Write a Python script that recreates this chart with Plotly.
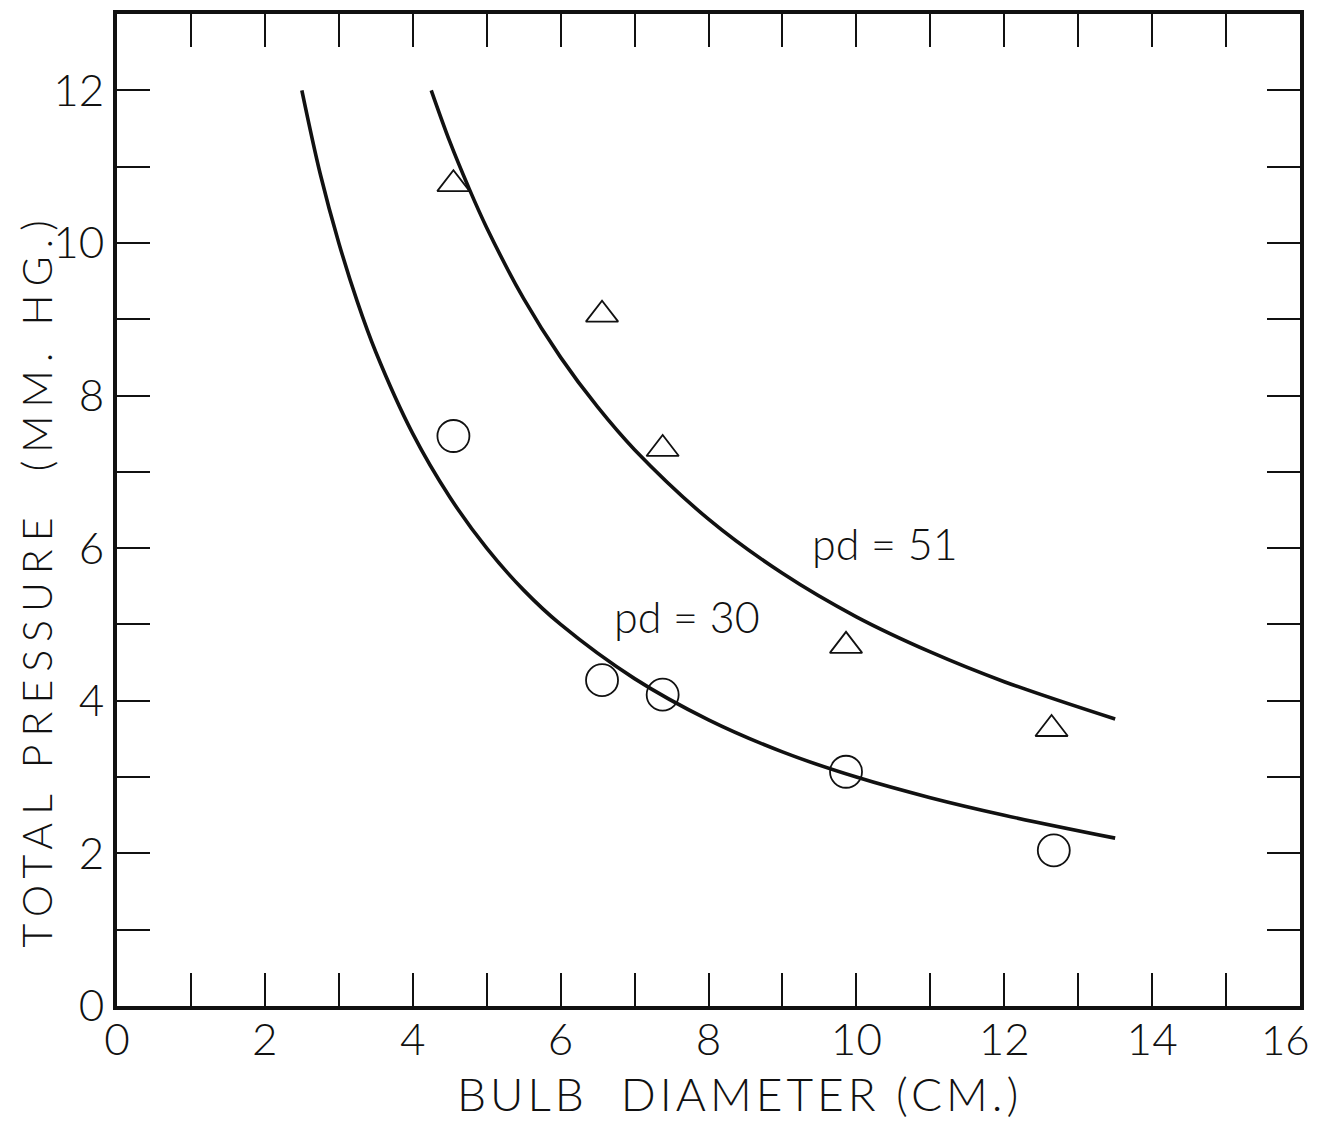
import plotly.graph_objects as go

# Data
tri_d = [4.55, 6.56, 7.38, 9.86, 12.64]
tri_p = [10.77, 9.06, 7.30, 4.72, 3.63]

circ_d = [4.55, 6.56, 7.38, 9.86, 12.67]
circ_p = [7.47, 4.27, 4.08, 3.07, 2.04]

curve30_d = [2.5, 2.75, 3.0, 3.25, 3.5, 4.0, 4.5, 5.0, 5.5, 6.0, 7.0, 8.0, 9.0, 10.0, 11.0, 12.0, 13.5]
curve30_p = [12.0, 10.9, 10.0, 9.23, 8.57, 7.5, 6.67, 6.0, 5.45, 5.0, 4.29, 3.75, 3.33, 3.0, 2.73, 2.5, 2.2]

curve51_d = [4.25, 4.5, 4.75, 5.0, 5.5, 6.0, 6.5, 7.0, 8.0, 9.0, 10.0, 11.0, 12.0, 13.5]
curve51_p = [12.0, 11.33, 10.74, 10.2, 9.27, 8.5, 7.85, 7.29, 6.38, 5.67, 5.1, 4.64, 4.25, 3.76]

x_tickvals = list(range(0, 17))
x_ticktext = [str(v) if (v % 2 == 0 and v < 16) else "" for v in x_tickvals]
x_last_label = "16"
y_tickvals = list(range(0, 13))
y_ticktext = [str(v) if v % 2 == 0 else "" for v in y_tickvals]

curve_labels = ["pd = 51", "pd = 30"]
label_x = [10.39, 7.71]
label_y = [6.06, 5.11]

x_title = "BULB  DIAMETER (CM.)"
y_title = "TOTAL PRESSURE  (MM. HG.)"

FONT = "Lato"
BLACK = "#111111"

fig = go.Figure()
fig.add_trace(go.Scatter(x=curve30_d, y=curve30_p, mode="lines",
                         line=dict(color=BLACK, width=3.6, shape="spline"),
                         showlegend=False, hoverinfo="skip"))
fig.add_trace(go.Scatter(x=curve51_d, y=curve51_p, mode="lines",
                         line=dict(color=BLACK, width=3.6, shape="spline"),
                         showlegend=False, hoverinfo="skip"))
fig.add_trace(go.Scatter(x=tri_d, y=tri_p, mode="markers",
                         marker=dict(symbol="triangle-up-open", size=28, color=BLACK,
                                     line=dict(width=1.8, color=BLACK)),
                         showlegend=False))
fig.add_trace(go.Scatter(x=circ_d, y=circ_p, mode="markers",
                         marker=dict(symbol="circle-open", size=32, color=BLACK,
                                     line=dict(width=1.8, color=BLACK)),
                         showlegend=False))

for t, x, y in zip(curve_labels, label_x, label_y):
    fig.add_annotation(x=x, y=y, text=t, showarrow=False,
                       font=dict(family=FONT, size=43, color=BLACK, weight=300))

# last x tick label, kept inside the page edge
fig.add_annotation(x=16, xref="x", yref="paper", y=-0.0335, text=x_last_label,
                   showarrow=False, xanchor="right", yanchor="middle", xshift=12,
                   font=dict(family=FONT, size=42, color=BLACK, weight=300))

fig.add_annotation(xref="paper", yref="paper", x=0.526, y=-0.0887,
                   text='<span style="letter-spacing:4px">' + x_title + '</span>',
                   showarrow=False, xanchor="center", yanchor="middle",
                   font=dict(family=FONT, size=46, color=BLACK, weight=300))
fig.add_annotation(xref="paper", yref="paper", x=-0.0685, y=0.430,
                   text='<span style="letter-spacing:8px">' + y_title + '</span>',
                   showarrow=False, textangle=-90, xanchor="center", yanchor="middle",
                   font=dict(family=FONT, size=41, color=BLACK, weight=300))

axis_common = dict(showline=True, linewidth=4, linecolor=BLACK, mirror="ticks",
                   ticks="inside", ticklen=33, tickwidth=2, tickcolor=BLACK,
                   showgrid=False, zeroline=False, automargin=False,
                   tickfont=dict(family=FONT, size=44, color=BLACK, weight=300))

fig.update_xaxes(range=[0, 16], tickmode="array", tickvals=x_tickvals, ticktext=x_ticktext,
                 ticklabelstandoff=-8, **axis_common)
fig.update_yaxes(range=[0, 13], tickmode="array", tickvals=y_tickvals, ticktext=y_ticktext,
                 **axis_common)

# page body has an 8px default margin, so the figure is sized to fit the window
fig.update_layout(width=1311, height=1113,
                  margin=dict(l=109, r=19, t=6, b=115),
                  paper_bgcolor="white", plot_bgcolor="white",
                  font=dict(family=FONT, color=BLACK))

fig.write_html("out.html")
